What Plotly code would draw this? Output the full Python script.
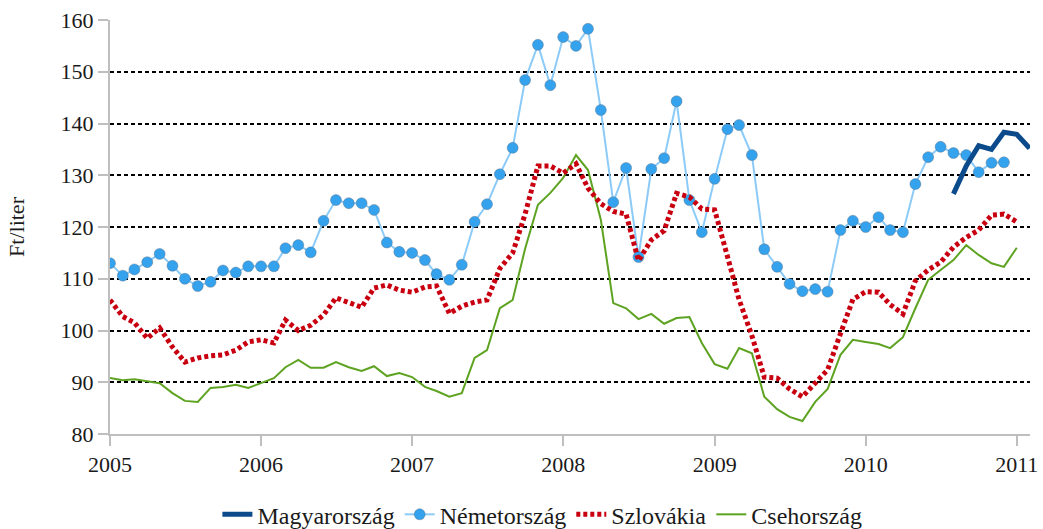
import pandas as pd
import plotly.graph_objects as go

dates = pd.date_range("2005-01-01", periods=74, freq="MS")

nemet = [113.0, 110.6, 111.8, 113.2, 114.8, 112.5, 110.0, 108.6, 109.4, 111.6, 111.2, 112.4,
         112.4, 112.4, 115.9, 116.5, 115.1, 121.2, 125.2, 124.6, 124.6, 123.3, 117.0, 115.2,
         115.0, 113.6, 110.9, 109.8, 112.7, 121.0, 124.4, 130.2, 135.3, 148.4, 155.2, 147.4,
         156.7, 155.0, 158.3, 142.6, 124.8, 131.4, 114.2, 131.2, 133.3, 144.3, 125.2, 119.0,
         129.3, 138.9, 139.7, 133.9, 115.7, 112.3, 109.0, 107.6, 108.0, 107.5, 119.4, 121.2,
         120.0, 121.9, 119.4, 119.0, 128.3, 133.5, 135.5, 134.3, 133.9, 130.6, 132.4, 132.5]

szlovak = [105.9, 102.7, 101.5, 98.5, 100.5, 96.8, 93.9, 94.7, 95.1, 95.3, 96.2, 97.8,
           98.2, 97.6, 102.0, 100.0, 101.0, 103.0, 106.3, 105.3, 104.5, 108.2, 108.8, 107.8,
           107.4, 108.4, 108.6, 103.3, 104.7, 105.5, 105.9, 112.0, 115.0, 122.5, 131.8, 131.8,
           130.4, 132.2, 127.5, 124.5, 123.0, 122.5, 113.5, 117.5, 119.3, 126.5, 125.8, 123.5,
           123.3, 114.3, 106.0, 99.0, 91.0, 90.8, 88.7, 87.2, 89.9, 92.4, 99.4, 106.0,
           107.5, 107.4, 105.0, 103.2, 109.6, 111.7, 113.2, 116.1, 118.0, 119.4, 122.3, 122.5,
           121.0]

cseh = [90.8, 90.4, 90.6, 90.2, 89.8, 87.9, 86.4, 86.2, 88.9, 89.1, 89.5, 88.9,
        89.9, 90.8, 92.9, 94.3, 92.8, 92.8, 93.9, 92.9, 92.2, 93.1, 91.2, 91.8,
        91.0, 89.1, 88.3, 87.2, 87.9, 94.7, 96.2, 104.3, 105.9, 115.8, 124.3, 126.6,
        129.5, 133.9, 131.0, 121.4, 105.3, 104.3, 102.2, 103.2, 101.3, 102.4, 102.6, 97.6,
        93.5, 92.6, 96.6, 95.6, 87.2, 84.8, 83.3, 82.5, 86.2, 88.7, 95.3, 98.2,
        97.8, 97.4, 96.6, 98.7, 104.3, 109.8, 111.7, 113.6, 116.5, 114.6, 113.0, 112.3,
        116.0]

magyar_start = 67
magyar = [126.4, 131.8, 135.7, 135.0, 138.3, 137.9, 135.2]

y_ticks = [80, 90, 100, 110, 120, 130, 140, 150, 160]
x_ticks = ["2005", "2006", "2007", "2008", "2009", "2010", "2011"]

FONT = "Liberation Serif, DejaVu Serif, serif"

fig = go.Figure()
fig.add_trace(go.Scatter(
    x=dates[:len(cseh)], y=cseh, name="Csehország", mode="lines",
    line=dict(color="#5DA321", width=2), legendrank=4))
fig.add_trace(go.Scatter(
    x=dates[:len(nemet)], y=nemet, name="Németország", mode="lines+markers",
    line=dict(color="#8CCBF8", width=2),
    marker=dict(color="#35A2EE", size=11, line=dict(color="rgba(90,110,130,0.6)", width=0.7)),
    legendrank=2))
fig.add_trace(go.Scatter(
    x=dates[:len(szlovak)], y=szlovak, name="Szlovákia", mode="lines",
    line=dict(color="#C8000F", width=5, dash="4px,3px"), legendrank=3))
fig.add_trace(go.Scatter(
    x=dates[magyar_start:magyar_start + len(magyar)], y=magyar, name="Magyarország", mode="lines",
    line=dict(color="#0B4B8C", width=5), legendrank=1))

fig.update_layout(
    width=1043, height=529,
    margin=dict(l=110, r=13, t=20, b=95),
    paper_bgcolor="white", plot_bgcolor="white",
    font=dict(family=FONT, size=22, color="#1a1a1a"),
    showlegend=True,
    legend=dict(orientation="h", xref="paper", x=0.47, xanchor="center",
                yref="container", y=0.027, yanchor="middle",
                font=dict(size=24), itemwidth=30, tracegroupgap=0, bgcolor="rgba(0,0,0,0)"),
)
fig.update_xaxes(
    range=["2005-01-01", "2011-02-02"],
    automargin=False,
    tickmode="array",
    tickvals=[pd.Timestamp(f"{y}-01-01") for y in x_ticks],
    ticktext=x_ticks,
    showgrid=False, zeroline=False,
    showline=True, linecolor="#BFBFBF", linewidth=2,
    ticks="outside", ticklen=10, tickcolor="#BFBFBF", tickwidth=2,
    tickfont=dict(size=22, family=FONT),
)
fig.update_yaxes(
    range=[80, 160],
    automargin=False,
    tickvals=y_ticks,
    showgrid=True, gridcolor="black", gridwidth=1.5, griddash="4px,3px",
    zeroline=False,
    showline=True, linecolor="#BFBFBF", linewidth=2,
    ticks="outside", ticklen=10, tickcolor="#BFBFBF", tickwidth=2,
    tickfont=dict(size=22, family=FONT),
    title=dict(text="Ft/liter", font=dict(size=22, family=FONT), standoff=30),
)

fig.write_html(
    "out.html",
    config={"displayModeBar": False},
    post_script="document.body.style.margin='0';document.body.style.padding='0';",
)
